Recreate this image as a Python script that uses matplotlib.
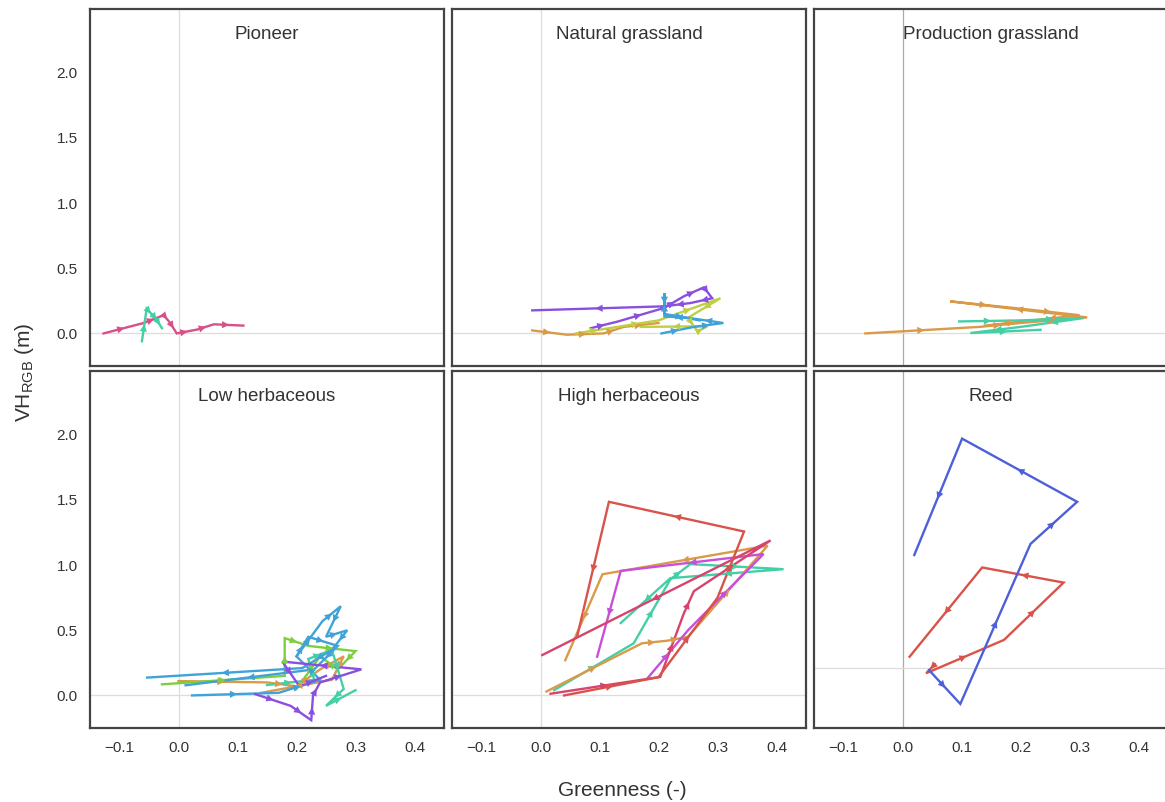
import matplotlib
matplotlib.use("Agg")
import matplotlib.pyplot as plt
import numpy as np

plt.rcParams['font.family'] = ['Liberation Sans', 'DejaVu Sans']

# colours of the trajectories
PINK = '#d6508a'
TEAL = '#45cfa6'
PURPLE = '#8a4fe0'
ORANGE = '#d99a4a'
OLIVE = '#bfcf42'
SKY = '#3fa2d8'
GREEN = '#7ccf3f'
RED = '#d9534a'
MAGENTA = '#c84fd8'
CRIMSON = '#d6446e'
ROYAL = '#4d5fd9'

# --- Pioneer
pio_pink_x = [-0.127, -0.059, -0.025, -0.014, -0.003, 0.032, 0.06, 0.11]
pio_pink_y = [0.0, 0.08, 0.14, 0.08, 0.0, 0.03, 0.07, 0.06]
pio_teal_x = [-0.062, -0.054, -0.04, -0.035, -0.028]
pio_teal_y = [-0.06, 0.19, 0.12, 0.09, 0.04]

# --- Natural grassland
nat_purple_x = [0.085, 0.13, 0.209, 0.243, 0.277, 0.291, 0.254, 0.209, -0.014]
nat_purple_y = [0.04, 0.09, 0.195, 0.285, 0.354, 0.27, 0.233, 0.208, 0.177]
nat_orange_x = [-0.014, 0.045, 0.107, 0.141, 0.2]
nat_orange_y = [0.023, -0.01, 0.0, 0.05, 0.08]
nat_olive_x = [0.06, 0.13, 0.2, 0.305, 0.25, 0.266, 0.283, 0.17]
nat_olive_y = [0.0, 0.05, 0.1, 0.27, 0.12, 0.015, 0.055, 0.05]
nat_sky_x = [0.205, 0.26, 0.31, 0.25, 0.21, 0.21, 0.21, 0.27]
nat_sky_y = [0.0, 0.05, 0.08, 0.12, 0.13, 0.31, 0.15, 0.1]

# --- Production grassland
prod_orange_x = [-0.063, 0.13, 0.2, 0.313, 0.081, 0.2, 0.3, 0.2, 0.14]
prod_orange_y = [0.0, 0.05, 0.08, 0.123, 0.246, 0.19, 0.14, 0.09, 0.06]
prod_teal_x = [0.096, 0.2, 0.307, 0.2, 0.115, 0.234]
prod_teal_y = [0.092, 0.1, 0.118, 0.05, 0.003, 0.028]

# --- Low herbaceous
low_sky1_x = [0.2, 0.244, 0.275, 0.25, 0.286, 0.26, 0.21, -0.053]
low_sky1_y = [0.3, 0.57, 0.685, 0.45, 0.5, 0.35, 0.21, 0.137]
low_sky2_x = [0.023, 0.17, 0.24, 0.2, 0.22, 0.27, 0.23, 0.012]
low_sky2_y = [0.0, 0.02, 0.12, 0.3, 0.45, 0.38, 0.2, 0.078]
low_green_x = [-0.028, 0.18, 0.18, 0.22, 0.3, 0.27, 0.24, 0.2]
low_green_y = [0.085, 0.15, 0.44, 0.38, 0.34, 0.2, 0.3, 0.05]
low_teal_x = [0.15, 0.23, 0.22, 0.26, 0.28, 0.25, 0.3]
low_teal_y = [0.08, 0.12, 0.28, 0.35, 0.05, -0.08, 0.04]
low_orange_x = [0.0, 0.15, 0.2, 0.24, 0.28, 0.26, 0.14]
low_orange_y = [0.11, 0.1, 0.07, 0.2, 0.3, 0.12, 0.02]
low_purple_x = [0.13, 0.19, 0.225, 0.228, 0.24, 0.31, 0.176, 0.205, 0.25]
low_purple_y = [0.01, -0.08, -0.19, 0.0, 0.1, 0.2, 0.26, 0.07, 0.15]

# --- High herbaceous
high_red1_x = [0.04, 0.2, 0.3, 0.345, 0.116, 0.062]
high_red1_y = [0.0, 0.14, 0.75, 1.258, 1.486, 0.45]
high_crimson_x = [0.017, 0.203, 0.243, 0.26, 0.39, 0.003]
high_crimson_y = [0.013, 0.142, 0.63, 0.8, 1.19, 0.31]
high_magenta_x = [0.181, 0.25, 0.378, 0.136, 0.096]
high_magenta_y = [0.13, 0.5, 1.085, 0.956, 0.297]
high_orange_x = [0.01, 0.172, 0.215, 0.25, 0.385, 0.105, 0.042]
high_orange_y = [0.03, 0.4, 0.42, 0.45, 1.15, 0.93, 0.27]
high_teal_x = [0.023, 0.158, 0.22, 0.254, 0.412, 0.22, 0.136]
high_teal_y = [0.04, 0.4, 0.89, 1.008, 0.969, 0.9, 0.556]

# --- Reed
reed_blue_x = [0.045, 0.098, 0.217, 0.296, 0.101, 0.02]
reed_blue_y = [0.194, -0.065, 1.163, 1.486, 1.971, 1.078]
reed_red_x = [0.055, 0.04, 0.172, 0.273, 0.135, 0.012]
reed_red_y = [0.24, 0.17, 0.426, 0.866, 0.982, 0.297]

titles = ['Pioneer', 'Natural grassland', 'Production grassland',
          'Low herbaceous', 'High herbaceous', 'Reed']
panels = [
    [(pio_pink_x, pio_pink_y, PINK), (pio_teal_x, pio_teal_y, TEAL)],
    [(nat_orange_x, nat_orange_y, ORANGE), (nat_olive_x, nat_olive_y, OLIVE),
     (nat_sky_x, nat_sky_y, SKY), (nat_purple_x, nat_purple_y, PURPLE)],
    [(prod_orange_x, prod_orange_y, ORANGE), (prod_teal_x, prod_teal_y, TEAL)],
    [(low_orange_x, low_orange_y, ORANGE), (low_green_x, low_green_y, GREEN),
     (low_teal_x, low_teal_y, TEAL), (low_sky2_x, low_sky2_y, SKY),
     (low_sky1_x, low_sky1_y, SKY), (low_purple_x, low_purple_y, PURPLE)],
    [(high_teal_x, high_teal_y, TEAL), (high_orange_x, high_orange_y, ORANGE),
     (high_magenta_x, high_magenta_y, MAGENTA), (high_crimson_x, high_crimson_y, CRIMSON),
     (high_red1_x, high_red1_y, RED)],
    [(reed_red_x, reed_red_y, RED), (reed_blue_x, reed_blue_y, ROYAL)],
]
hline_y = [0, 0, 0, 0, 0, 0.21]
vline_col = ['#dddddd', '#dddddd', '#aaaaaa', '#dddddd', '#dddddd', '#aaaaaa']

W, H = 1165, 802
fig = plt.figure(figsize=(W / 100, H / 100), dpi=100)

col_left = [90, 452, 814]
row_top = [9, 371]
ax_w, ax_h = 354, 357
TXT = '#333333'

for i, (series, title) in enumerate(zip(panels, titles)):
    r, c = divmod(i, 3)
    left = col_left[c] / W
    bottom = 1 - (row_top[r] + ax_h) / H
    ax = fig.add_axes([left, bottom, ax_w / W, ax_h / H])
    ax.set_xlim(-0.15, 0.45)
    ax.set_ylim(-0.25, 2.49)
    ax.axvline(0, color=vline_col[i], lw=0.9, zorder=0)
    ax.axhline(hline_y[i], color='#dddddd', lw=0.9, zorder=0)

    for xs, ys, col in series:
        xs = np.asarray(xs)
        ys = np.asarray(ys)
        ax.plot(xs, ys, color=col, lw=1.7, solid_joinstyle='miter', zorder=2)
        for k in range(len(xs) - 1):
            mx = (xs[k] + xs[k + 1]) / 2
            my = (ys[k] + ys[k + 1]) / 2
            dx = xs[k + 1] - xs[k]
            dy = ys[k + 1] - ys[k]
            ax.annotate('', xy=(mx + dx * 0.02, my + dy * 0.02),
                        xytext=(mx - dx * 0.02, my - dy * 0.02),
                        arrowprops=dict(arrowstyle='-|>', color=col, lw=0,
                                        mutation_scale=13, shrinkA=0, shrinkB=0),
                        zorder=3)

    ax.text(0.5, 0.928, title, transform=ax.transAxes, ha='center', va='center',
            fontsize=13.5, color=TXT)

    for s in ax.spines.values():
        s.set_color('#444444')
        s.set_linewidth(1.6)
    ax.tick_params(length=0, colors=TXT, labelsize=11, pad=9)
    ax.set_xticks([-0.1, 0.0, 0.1, 0.2, 0.3, 0.4])
    ax.set_yticks([0.0, 0.5, 1.0, 1.5, 2.0])
    if c != 0:
        ax.set_yticklabels([])
    if r != 1:
        ax.set_xticklabels([])

fig.text(24 / W, 1 - 372 / H, r'VH$_{\mathregular{RGB}}$ (m)', rotation=90,
         ha='center', va='center', fontsize=15, color=TXT)
fig.text(622 / W, 1 - 790 / H, 'Greenness (-)', ha='center', va='center',
         fontsize=15, color=TXT)

fig.savefig('out.png', dpi=100)
